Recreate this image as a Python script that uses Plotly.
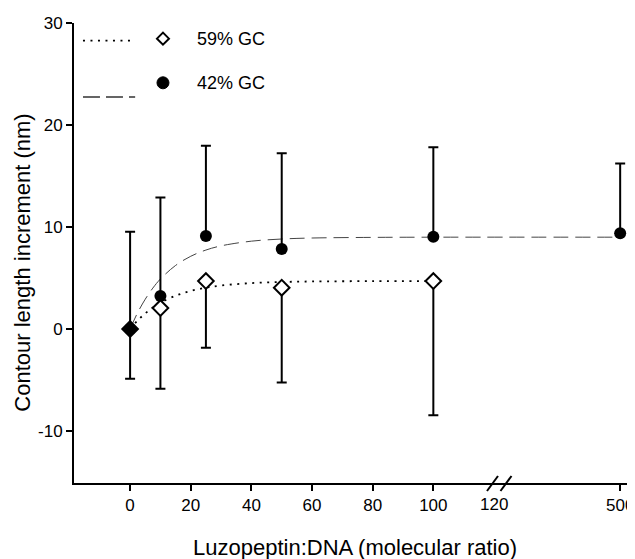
import plotly.graph_objects as go

# ---- data ----
ratio = [0, 10, 25, 50, 100, 500]                 # Luzopeptin:DNA ratio
gc42_y = [0.0, 3.23, 9.12, 7.84, 9.05, 9.39]       # 42% GC (filled circles)
gc42_err = [9.54, 9.65, 8.84, 9.40, 8.78, 6.83]
ratio59 = [0, 10, 25, 50, 100]
gc59_y = [0.0, 2.05, 4.70, 4.05, 4.70]             # 59% GC (open diamonds)
gc59_err = [4.89, 7.92, 6.55, 9.29, 13.15]

fit_x = [0, 2.5, 5, 7.5, 10, 15, 20, 25, 30, 40, 50, 60, 80, 100, 500]
fit42_y = [0, 1.61, 2.92, 4.01, 4.90, 6.23, 7.13, 7.74, 8.15, 8.61, 8.82, 8.92, 8.98, 9.0, 9.0]
fit59_x = [0, 2.5, 5, 7.5, 10, 15, 20, 25, 30, 40, 50, 60, 80, 100]
fit59_y = [0, 0.84, 1.53, 2.10, 2.57, 3.26, 3.73, 4.05, 4.26, 4.50, 4.61, 4.66, 4.69, 4.70]

x_tick_vals = [0, 20, 40, 60, 80, 100, 500]
x_tick_text = ["0", "20", "40", "60", "80", "100", "500"]
y_tick_vals = [-10, 0, 10, 20, 30]
y_tick_text = ["-10", "0", "10", "20", "30"]
break_label = "120"

# ---- broken x axis: values above the break are compressed ----
BREAK_FROM = 120
BREAK_SCALE = 0.1095


def axis_pos(v):
    return v if v <= BREAK_FROM else BREAK_FROM + (v - BREAK_FROM) * BREAK_SCALE


FONT = "Liberation Sans, Arial, sans-serif"
PAGE_OFFSET = 8  # default body margin of the html page
DASH = "15px,7px"
DOT = "2px,5.5px"

fig = go.Figure()

fig.add_trace(go.Scatter(
    x=[axis_pos(v) for v in fit_x], y=fit42_y, mode="lines",
    line=dict(color="#444", width=1, dash=DASH, shape="spline"),
    showlegend=False, hoverinfo="skip", cliponaxis=False))
fig.add_trace(go.Scatter(
    x=[axis_pos(v) for v in fit59_x], y=fit59_y, mode="lines",
    line=dict(color="black", width=1.8, dash=DOT, shape="spline"),
    showlegend=False, hoverinfo="skip"))

fig.add_trace(go.Scatter(
    x=[axis_pos(v) for v in ratio], y=gc42_y, mode="markers",
    marker=dict(symbol="circle", size=12, color="black"),
    error_y=dict(type="data", symmetric=False, array=gc42_err,
                 arrayminus=[0] * len(gc42_err), color="black",
                 thickness=2, width=5),
    showlegend=False, cliponaxis=False))
fig.add_trace(go.Scatter(
    x=[axis_pos(v) for v in ratio59], y=gc59_y, mode="markers",
    marker=dict(symbol="diamond", size=12,
                color=["black"] + ["white"] * (len(gc59_y) - 1),
                line=dict(color="black", width=2)),
    error_y=dict(type="data", symmetric=False, array=[0] * len(gc59_err),
                 arrayminus=gc59_err, color="black", thickness=2, width=5),
    showlegend=False))

shapes = []
# axis break slashes
for dx in (0, 13.5):
    shapes.append(dict(type="line", xref="x", yref="paper",
                       xsizemode="pixel", ysizemode="pixel",
                       xanchor=BREAK_FROM, yanchor=0,
                       x0=-7 + dx, x1=4 + dx, y0=-8, y1=7,
                       line=dict(color="black", width=2)))
# custom legend samples
shapes.append(dict(type="line", xref="paper", yref="paper",
                   x0=0.016, x1=0.109, y0=0.9615, y1=0.9615,
                   line=dict(color="black", width=1.8, dash=DOT)))
shapes.append(dict(type="line", xref="paper", yref="paper",
                   x0=0.016, x1=0.109, y0=0.839, y1=0.839,
                   line=dict(color="#333", width=1.5, dash="17px,6px")))
shapes.append(dict(type="path", xref="paper", yref="paper",
                   xsizemode="pixel", ysizemode="pixel",
                   xanchor=0.1586, yanchor=0.966,
                   path="M -6 0 L 0 6 L 6 0 L 0 -6 Z",
                   fillcolor="white", line=dict(color="black", width=2)))
shapes.append(dict(type="circle", xref="paper", yref="paper",
                   xsizemode="pixel", ysizemode="pixel",
                   xanchor=0.1586, yanchor=0.87,
                   x0=-6, x1=6, y0=-6, y1=6,
                   fillcolor="black", line=dict(color="black", width=1)))

annotations = [
    dict(text="59% GC", xref="paper", yref="paper", x=0.2157, y=0.966,
         xanchor="left", yanchor="middle", showarrow=False,
         font=dict(family=FONT, size=18, color="black")),
    dict(text="42% GC", xref="paper", yref="paper", x=0.2157, y=0.87,
         xanchor="left", yanchor="middle", showarrow=False,
         font=dict(family=FONT, size=18, color="black")),
    dict(text=break_label, xref="x", yref="paper", x=BREAK_FROM, y=-0.0457,
         xanchor="center", yanchor="middle", showarrow=False,
         font=dict(family=FONT, size=17, color="black")),
    dict(text="Luzopeptin:DNA (molecular ratio)", xref="paper", yref="paper",
         x=0.501, y=-0.1402, xanchor="center", yanchor="middle", showarrow=False,
         font=dict(family=FONT, size=22, color="black")),
    dict(text="Contour length increment (nm)", xref="paper", yref="paper",
         x=-0.0909, y=0.479, xanchor="center", yanchor="middle", showarrow=False,
         textangle=-90, font=dict(family=FONT, size=22, color="black")),
]

fig.update_layout(
    template="none",
    width=635 - PAGE_OFFSET, height=559 - PAGE_OFFSET,
    margin=dict(l=74 - PAGE_OFFSET, r=0, t=23 - PAGE_OFFSET, b=76, autoexpand=False),
    paper_bgcolor="white", plot_bgcolor="white",
    font=dict(family=FONT, size=17, color="black"),
    shapes=shapes, annotations=annotations,
    showlegend=False,
)
fig.update_xaxes(
    range=[-18.5, 166.5], showgrid=False, zeroline=False, automargin=False,
    showline=True, linecolor="black", linewidth=2,
    ticks="outside", ticklen=6, tickwidth=2, tickcolor="black",
    tickvals=[axis_pos(v) for v in x_tick_vals], ticktext=x_tick_text,
    tickfont=dict(family=FONT, size=17, color="black"),
)
fig.update_yaxes(
    range=[-15.1, 30], showgrid=False, zeroline=False, automargin=False,
    showline=True, linecolor="black", linewidth=2,
    ticks="outside", ticklen=6, tickwidth=2, tickcolor="black",
    tickvals=y_tick_vals, ticktext=y_tick_text,
    tickfont=dict(family=FONT, size=17, color="black"),
)

fig.write_html("out.html", config={"displayModeBar": False})
